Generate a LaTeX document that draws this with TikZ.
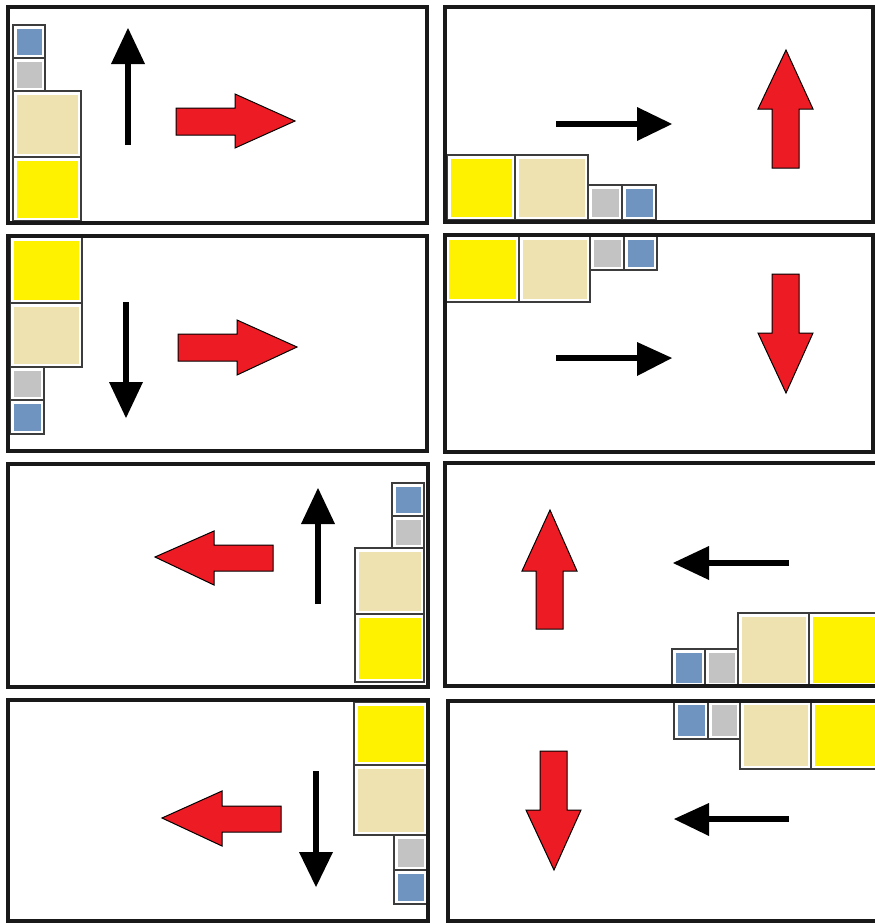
\documentclass[tikz,border=0pt]{standalone}
\usetikzlibrary{calc}
\definecolor{sqblue}{RGB}{112,148,192}
\definecolor{sqgrey}{RGB}{195,195,195}
\definecolor{sqbeige}{RGB}{238,226,176}
\definecolor{sqyellow}{RGB}{255,242,0}
\definecolor{arrred}{RGB}{237,28,36}
\definecolor{boxline}{RGB}{25,25,25}
\definecolor{sqedge}{RGB}{60,60,60}
\tikzset{
  panelbox/.style={draw=boxline, line width=3.5pt},
  sqouter/.style={draw=sqedge, line width=2.5pt, fill=white},
  blkshaft/.style={draw=black, line width=6pt},
  blkhead/.style={fill=black},
  redarrow/.style={fill=arrred, draw=black, line width=1pt, line join=miter},
}
\newcommand\mysq[5]{%
  \draw[sqouter] (#1,#2) rectangle (#3,#4);
  \fill[#5] ({#1+3.5},{#2+3.5}) rectangle ({#3-3.5},{#4-3.5});}
\newcommand\myframe[4]{\draw[panelbox] (#1,#2) rectangle (#3,#4);}
\begin{document}
\begin{tikzpicture}[x=1pt,y=-1pt]
\useasboundingbox (0,0) rectangle (875,924);
\clip (0,0) rectangle (875,924);
\fill[white] (0,0) rectangle (875,924);
% ---------- Panel 1 ----------
\mysq{13}{25}{45}{58}{sqblue}
\mysq{13}{58}{45}{91}{sqgrey}
\mysq{13}{91}{81}{157}{sqbeige}
\mysq{13}{157}{81}{221}{sqyellow}
\myframe{8}{7}{427}{223}
\draw[blkshaft] (128,145) -- (128,60);
\fill[blkhead] (128,28) -- (145,64) -- (111,64) -- cycle;
\draw[redarrow] (176,108) -- (235,108) -- (235,94) -- (295,121) -- (235,148) -- (235,135) -- (176,135) -- cycle;
% ---------- Panel 2 ----------
\mysq{447}{155}{515}{220}{sqyellow}
\mysq{515}{155}{588}{220}{sqbeige}
\mysq{588}{185}{622}{220}{sqgrey}
\mysq{622}{185}{656}{220}{sqblue}
\myframe{445}{7}{873}{222}
\draw[blkshaft] (556,124) -- (641,124);
\fill[blkhead] (672,124) -- (637,141) -- (637,107) -- cycle;
\draw[redarrow] (786,50) -- (813,109) -- (799,109) -- (799,168) -- (772,168) -- (772,109) -- (758,109) -- cycle;
% ---------- Panel 3 ----------
\mysq{10}{237}{82}{303}{sqyellow}
\mysq{10}{303}{82}{367}{sqbeige}
\mysq{10}{367}{44}{400}{sqgrey}
\mysq{10}{400}{44}{434}{sqblue}
\myframe{8}{236}{427}{451}
\draw[blkshaft] (126,302) -- (126,386);
\fill[blkhead] (126,418) -- (109,382) -- (143,382) -- cycle;
\draw[redarrow] (178,334) -- (237,334) -- (237,320) -- (297,347) -- (237,375) -- (237,361) -- (178,361) -- cycle;
% ---------- Panel 4 ----------
\mysq{445}{236}{519}{302}{sqyellow}
\mysq{519}{236}{590}{302}{sqbeige}
\mysq{590}{236}{624}{270}{sqgrey}
\mysq{624}{236}{657}{270}{sqblue}
\myframe{445}{235}{873}{452}
\draw[blkshaft] (556,358) -- (641,358);
\fill[blkhead] (672,358) -- (637,376) -- (637,342) -- cycle;
\draw[redarrow] (772,274) -- (799,274) -- (799,333) -- (813,333) -- (786,393) -- (758,333) -- (772,333) -- cycle;
% ---------- Panel 5 ----------
\mysq{392}{483}{424}{516}{sqblue}
\mysq{392}{516}{424}{548}{sqgrey}
\mysq{355}{548}{424}{614}{sqbeige}
\mysq{355}{614}{424}{682}{sqyellow}
\myframe{8}{464}{428}{687}
\draw[blkshaft] (318,604) -- (318,520);
\fill[blkhead] (318,488) -- (335,524) -- (301,524) -- cycle;
\draw[redarrow] (155,557) -- (214,531) -- (214,545) -- (273,545) -- (273,571) -- (214,571) -- (214,585) -- cycle;
% ---------- Panel 6 ----------
\mysq{672}{649}{705}{686}{sqblue}
\mysq{705}{649}{738}{686}{sqgrey}
\mysq{738}{613}{809}{686}{sqbeige}
\mysq{809}{613}{885}{686}{sqyellow}
\myframe{445}{463}{890}{686}
\draw[redarrow] (550,510) -- (577,571) -- (563,571) -- (563,629) -- (536,629) -- (536,571) -- (522,571) -- cycle;
\draw[blkshaft] (789,563) -- (705,563);
\fill[blkhead] (673,563) -- (709,546) -- (709,580) -- cycle;
% ---------- Panel 7 ----------
\mysq{354}{702}{427}{765}{sqyellow}
\mysq{354}{765}{427}{835}{sqbeige}
\mysq{394}{835}{427}{870}{sqgrey}
\mysq{394}{870}{427}{904}{sqblue}
\myframe{8}{700}{428}{921}
\draw[redarrow] (162,818) -- (222,791) -- (222,806) -- (281,806) -- (281,832) -- (222,832) -- (222,846) -- cycle;
\draw[blkshaft] (316,771) -- (316,856);
\fill[blkhead] (316,887) -- (299,852) -- (333,852) -- cycle;
% ---------- Panel 8 ----------
\mysq{674}{701}{708}{739}{sqblue}
\mysq{708}{701}{740}{739}{sqgrey}
\mysq{740}{701}{811}{769}{sqbeige}
\mysq{811}{701}{885}{769}{sqyellow}
\myframe{448}{701}{890}{921}
\draw[redarrow] (540,751) -- (567,751) -- (567,810) -- (581,810) -- (554,870) -- (526,810) -- (540,810) -- cycle;
\draw[blkshaft] (789,819) -- (705,819);
\fill[blkhead] (674,819) -- (709,803) -- (709,836) -- cycle;
\end{tikzpicture}
\end{document}
